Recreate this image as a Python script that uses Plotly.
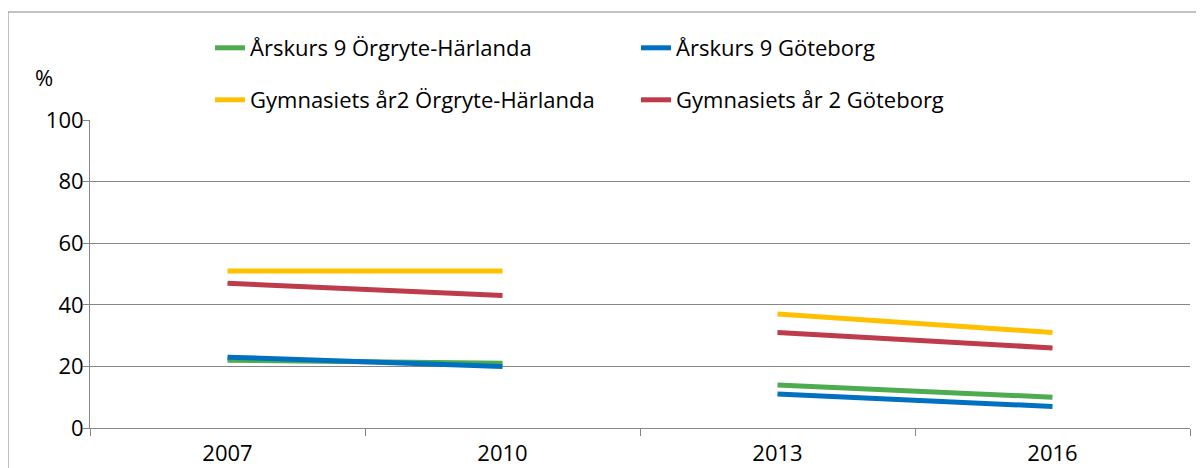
import plotly.graph_objects as go

years = ["2007", "2010", "2013", "2016"]
series_names = [
    "Årskurs 9 Örgryte-Härlanda",
    "Årskurs 9 Göteborg",
    "Gymnasiets år2 Örgryte-Härlanda",
    "Gymnasiets år 2 Göteborg",
]
ak9_orgryte = [22, 21, 14, 10]
ak9_goteborg = [23, 20, 11, 7]
gy2_orgryte = [51, 51, 37, 31]
gy2_goteborg = [47, 43, 31, 26]
colors = ["#4EAC50", "#0070C0", "#FFC000", "#BE3B4B"]
legend_ids = ["legend", "legend", "legend2", "legend2"]
y_ticks = [0, 20, 40, 60, 80, 100]

# two measurement periods, drawn as separate segments
periods = [(0, 2), (2, 4)]

FONT = "Open Sans"
OFF = 8  # page body margin
W, H = 1204 - OFF, 468 - OFF
L, R, T, B = 90 - OFF, 1204 - 1190, 120 - OFF, 468 - 428
PW, PH = W - L - R, H - T - B


def px_x(px):
    return (px - OFF - L) / PW


def px_y(py):
    return (H - B - (py - OFF)) / PH


fig = go.Figure()
positions = list(range(len(years)))
draw_order = [2, 3, 0, 1]
all_series = [ak9_orgryte, ak9_goteborg, gy2_orgryte, gy2_goteborg]
for i in draw_order:
    vals = all_series[i]
    for k, (a, b) in enumerate(periods):
        fig.add_trace(go.Scatter(
            x=positions[a:b], y=vals[a:b], mode="lines",
            name=series_names[i], legendgroup=series_names[i],
            showlegend=(k == 0), legend=legend_ids[i],
            line=dict(color=colors[i], width=5),
            legendrank=i,
        ))

leg_common = dict(orientation="h", x=px_x(210), xanchor="left",
                  yanchor="middle", entrywidth=381, entrywidthmode="pixels",
                  font=dict(family=FONT, size=22, color="black"),
                  bgcolor="rgba(0,0,0,0)", traceorder="normal", itemwidth=30)

fig.update_layout(
    width=W, height=H,
    margin=dict(l=L, r=R, t=T, b=B, autoexpand=False),
    paper_bgcolor="white", plot_bgcolor="white",
    font=dict(family=FONT, size=20, color="black"),
    showlegend=True,
    legend=dict(leg_common, y=px_y(48)),
    legend2=dict(leg_common, y=px_y(100)),
    xaxis=dict(
        range=[-0.5, len(years) - 0.5],
        tickvals=positions, ticktext=years, ticks="",
        showgrid=False, zeroline=False,
        showline=True, linecolor="#868686", linewidth=1,
        tickfont=dict(family=FONT, size=22, color="black"),
        ticklabelstandoff=6,
        automargin=False,
        minor=dict(tickvals=[p - 0.5 for p in positions] + [len(years) - 0.5],
                   ticks="outside", ticklen=7, tickcolor="#868686", showgrid=False),
    ),
    yaxis=dict(
        range=[0, 100], tickvals=y_ticks,
        showgrid=True, gridcolor="#868686", gridwidth=1,
        zeroline=False, showline=True, linecolor="#868686", linewidth=1,
        ticks="outside", ticklen=6, tickcolor="#868686",
        tickfont=dict(family=FONT, size=22, color="black"),
        ticklabelstandoff=-5,
        automargin=False,
    ),
    shapes=[dict(type="rect", xref="paper", yref="paper",
                 x0=px_x(8), x1=1.05, y0=-0.5, y1=px_y(12),
                 line=dict(color="#868686", width=1), fillcolor="rgba(0,0,0,0)",
                 layer="below")],
    annotations=[dict(text="%", xref="paper", yref="paper",
                      x=px_x(44), y=px_y(77),
                      xanchor="center", yanchor="middle", showarrow=False,
                      font=dict(family=FONT, size=22, color="black"))],
)

fig.write_html("out.html")
